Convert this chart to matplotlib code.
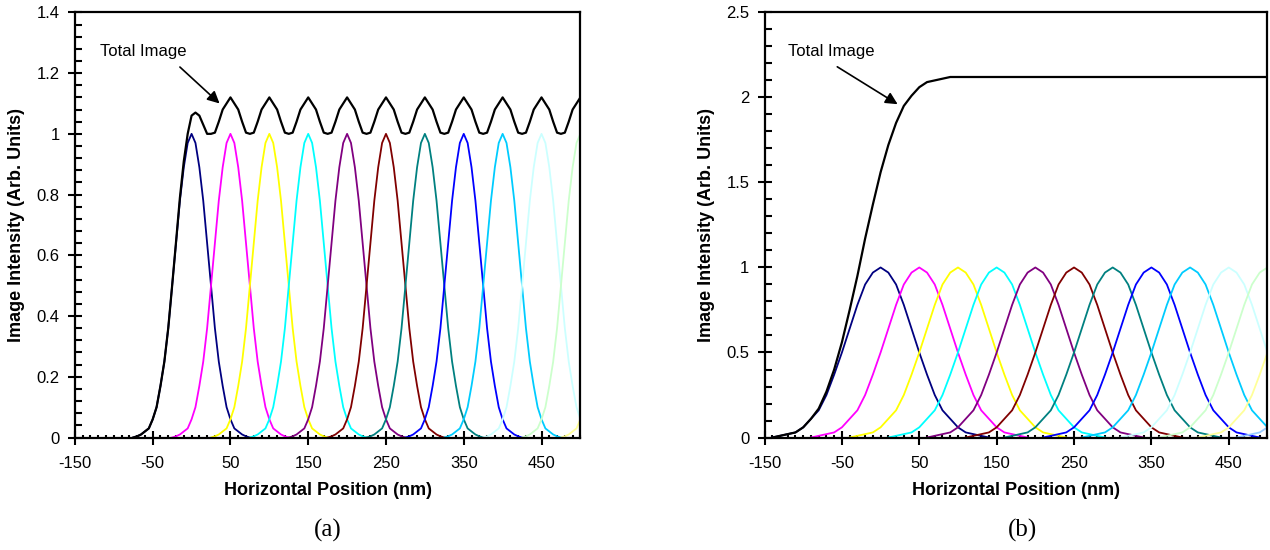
import numpy as np
import matplotlib.pyplot as plt
from matplotlib.ticker import MultipleLocator

plt.rcParams['font.family'] = ['Liberation Sans', 'DejaVu Sans']
plt.rcParams['axes.unicode_minus'] = False

# Centre of each exposed feature (nm)
centers = [0, 50, 100, 150, 200, 250, 300, 350, 400, 450, 500, 550, 600]
line_colors = ['#000080', '#FF00FF', '#FFFF00', '#00FFFF', '#800080', '#800000',
               '#008080', '#0000FF', '#00CCFF', '#CCFFFF', '#CCFFCC', '#FFFF99',
               '#99CCFF']

# (a) narrow single-feature image profile, sampled every 5 nm about its centre
offsets_a = [-75, -70, -65, -60, -55, -50, -45, -40, -35, -30, -25, -20, -15, -10, -5, 0,
             5, 10, 15, 20, 25, 30, 35, 40, 45, 50, 55, 60, 65, 70, 75]
profile_a = [0.0, 0.004, 0.01, 0.02, 0.03, 0.06, 0.10, 0.17, 0.25, 0.36, 0.50, 0.64,
             0.78, 0.89, 0.97, 1.00,
             0.97, 0.89, 0.78, 0.64, 0.50, 0.36, 0.25, 0.17, 0.10, 0.06, 0.03, 0.02,
             0.01, 0.004, 0.0]

# (b) wide single-feature image profile, sampled every 10 nm about its centre
offsets_b = [-140, -130, -120, -110, -100, -90, -80, -70, -60, -50, -40, -30, -20, -10, 0,
             10, 20, 30, 40, 50, 60, 70, 80, 90, 100, 110, 120, 130, 140]
profile_b = [0.0, 0.01, 0.02, 0.03, 0.06, 0.11, 0.16, 0.25, 0.37, 0.50, 0.64, 0.78,
             0.90, 0.97, 1.00,
             0.97, 0.90, 0.78, 0.64, 0.50, 0.37, 0.25, 0.16, 0.11, 0.06, 0.03, 0.02,
             0.01, 0.0]

fig = plt.figure(figsize=(12.7, 5.5), dpi=100)
ax_a = fig.add_axes([0.059, 0.2045, 0.398, 0.773])
ax_b = fig.add_axes([0.602, 0.2045, 0.396, 0.773])


def draw_panel(ax, offsets, profile, step, ymax, ymajor, yminor, text_xy, tail, head):
    offsets = np.array(offsets)
    profile = np.array(profile)
    # individual feature images
    for c, col in zip(centers, line_colors):
        ax.plot(c + offsets, profile, color=col, lw=1.3, zorder=2)
    # total image = sum of all features
    grid = np.arange(offsets[0], 500 + step, step)
    total = np.zeros(len(grid))
    for c in centers:
        total += np.interp(grid, c + offsets, profile, left=0, right=0)
    ax.plot(grid, total, color='black', lw=1.6, zorder=3)

    ax.set_xlim(-150, 500)
    ax.set_ylim(0, ymax)
    ax.set_xticks(np.arange(-150, 500, 100))
    ax.xaxis.set_minor_locator(MultipleLocator(10))
    ax.yaxis.set_major_locator(MultipleLocator(ymajor))
    ax.yaxis.set_minor_locator(MultipleLocator(yminor))
    ax.yaxis.set_major_formatter(plt.FuncFormatter(lambda v, p: f'{v:g}'))
    ax.tick_params(which='major', direction='inout', length=10, width=1.5,
                   labelsize=12, pad=6)
    ax.tick_params(axis='x', which='major', pad=8)
    ax.tick_params(axis='y', which='minor', direction='in', length=5, width=1.5)
    ax.tick_params(axis='x', which='minor', direction='in', length=2.5, width=1.5)
    for s in ax.spines.values():
        s.set_linewidth(1.6)
    ax.set_xlabel('Horizontal Position (nm)', fontsize=13, fontweight='bold', labelpad=8)
    ax.set_ylabel('Image Intensity (Arb. Units)', fontsize=13, fontweight='bold', labelpad=8)

    ax.text(text_xy[0], text_xy[1], 'Total Image', fontsize=12, va='center')
    ax.annotate('', xy=head, xytext=tail,
                arrowprops=dict(arrowstyle='-|>', color='black', lw=1.2,
                                mutation_scale=18, shrinkA=0, shrinkB=0))


draw_panel(ax_a, offsets_a, profile_a, 5, 1.4, 0.2, 0.04,
           (-118, 1.27), (-15, 1.22), (36, 1.10))
draw_panel(ax_b, offsets_b, profile_b, 10, 2.5, 0.5, 0.1,
           (-120, 2.27), (-56, 2.18), (22, 1.96))

fig.text(0.258, 0.035, '(a)', fontsize=18, family=['Liberation Serif', 'DejaVu Serif'],
         ha='center', va='center')
fig.text(0.805, 0.035, '(b)', fontsize=18, family=['Liberation Serif', 'DejaVu Serif'],
         ha='center', va='center')

fig.savefig('out.png', dpi=100)
